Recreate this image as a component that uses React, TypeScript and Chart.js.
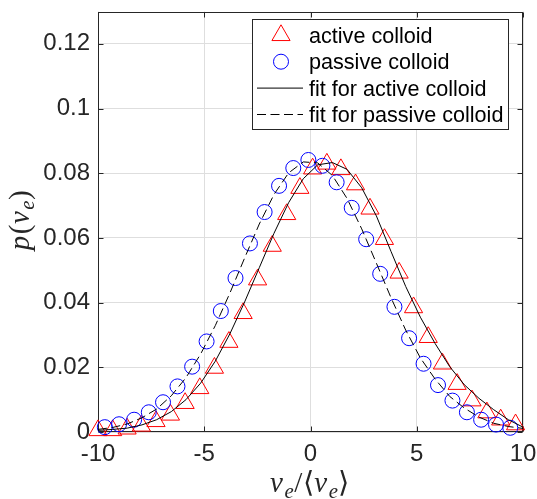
import React, { useEffect, useRef } from 'react';
import { Chart, registerables } from 'chart.js';
Chart.register(...registerables);

// ---- data ----
const activeX = [-10.0, -9.31, -8.63, -7.96, -7.27, -6.59, -5.9, -5.21, -4.52, -3.84, -3.17, -2.49, -1.8, -1.12, -0.5, 0.1, 0.77, 1.43, 2.12, 2.8, 3.48, 4.17, 4.85, 5.54, 6.21, 6.9, 7.6, 8.3, 8.95, 9.65];
const activeY = [0.0005, 0.0005, 0.001, 0.0019, 0.0033, 0.0053, 0.0089, 0.0135, 0.0198, 0.0278, 0.0367, 0.0471, 0.0575, 0.0673, 0.0754, 0.0814, 0.0829, 0.0812, 0.0765, 0.069, 0.0596, 0.0492, 0.0385, 0.0293, 0.0211, 0.0148, 0.0097, 0.006, 0.0038, 0.0023];

const passiveX = [-9.68, -9.01, -8.3, -7.61, -6.94, -6.26, -5.57, -4.89, -4.22, -3.53, -2.85, -2.16, -1.48, -0.81, -0.1, 0.56, 1.23, 1.94, 2.62, 3.28, 3.95, 4.64, 5.32, 6.0, 6.68, 7.36, 8.03, 8.73, 9.4];
const passiveY = [0.0015, 0.0024, 0.0038, 0.0061, 0.0092, 0.0141, 0.0202, 0.028, 0.0374, 0.0476, 0.0583, 0.068, 0.0761, 0.0816, 0.0841, 0.0823, 0.0772, 0.0693, 0.0596, 0.0489, 0.0387, 0.029, 0.0211, 0.0145, 0.0097, 0.0061, 0.0038, 0.0023, 0.0013];

const fitX = [-10, -9.31, -8.62, -7.93, -7.24, -6.55, -5.86, -5.17, -4.48, -3.79, -3.1, -2.41, -1.72, -1.03, -0.34, 0.34, 1.03, 1.72, 2.41, 3.1, 3.79, 4.48, 5.17, 5.86, 6.55, 7.24, 7.93, 8.62, 9.31, 10];
const activeFitY = [0.0005, 0.0008, 0.0012, 0.0022, 0.0038, 0.0063, 0.01, 0.0151, 0.0219, 0.0304, 0.0402, 0.0508, 0.0614, 0.0709, 0.0783, 0.0826, 0.0833, 0.0812, 0.0755, 0.0668, 0.0558, 0.045, 0.0355, 0.0274, 0.0202, 0.0146, 0.0104, 0.0069, 0.0038, 0.0015];
const passiveFitY = [0.0008, 0.0014, 0.0025, 0.0044, 0.0071, 0.0112, 0.0168, 0.0241, 0.0329, 0.043, 0.0538, 0.0643, 0.0734, 0.0801, 0.0835, 0.0832, 0.0793, 0.0722, 0.0628, 0.0522, 0.0415, 0.0315, 0.0229, 0.0164, 0.011, 0.0074, 0.0046, 0.0027, 0.0017, 0.0011];

const xTicks = [-10, -5, 0, 5, 10];
const xTickLabels = ['-10', '-5', '0', '5', '10'];
const yTicks = [0, 0.02, 0.04, 0.06, 0.08, 0.1, 0.12];
const yTickLabels = ['0', '0.02', '0.04', '0.06', '0.08', '0.1', '0.12'];

const seriesLabels = ['active colloid', 'passive colloid', 'fit for active colloid', 'fit for passive colloid'];

type Seg = { t: string; it?: boolean; sub?: boolean };
const yTitle: Seg[] = [{ t: 'p', it: true }, { t: '(' }, { t: 'v', it: true }, { t: 'e', it: true, sub: true }, { t: ')' }];
const xTitle: Seg[] = [{ t: 'v', it: true }, { t: 'e', it: true, sub: true }, { t: '/' }, { t: '⟨' }, { t: 'v', it: true }, { t: 'e', it: true, sub: true }, { t: '⟩' }];

const AXIS = '#262626';
const RED = '#ff0000';
const BLUE = '#0000ff';
const TITLE_FONT = '"Liberation Serif", serif';
const TITLE_SIZE = 29;
const DASH = [9, 4.5];

function drawRich(ctx: CanvasRenderingContext2D, segs: Seg[], size: number) {
  const fontFor = (s: Seg) => `${s.it ? 'italic ' : ''}${s.sub ? size * 0.72 : size}px ${TITLE_FONT}`;
  const widths: number[] = [];
  let total = 0;
  segs.forEach((s) => {
    ctx.font = fontFor(s);
    const w = ctx.measureText(s.t).width + (s.it && !s.sub ? 1.5 : 0.5);
    widths.push(w);
    total += w;
  });
  let x = -total / 2;
  ctx.textAlign = 'left';
  ctx.textBaseline = 'alphabetic';
  segs.forEach((s, i) => {
    ctx.font = fontFor(s);
    ctx.fillText(s.t, x, s.sub ? size * 0.2 : 0);
    x += widths[i];
  });
}

function triPath(ctx: CanvasRenderingContext2D, x: number, y: number, r: number) {
  ctx.beginPath();
  for (let k = 0; k < 3; k++) {
    const a = (k * 2 * Math.PI) / 3;
    const px = x + Math.sin(a) * r;
    const py = y - Math.cos(a) * r;
    if (k === 0) ctx.moveTo(px, py);
    else ctx.lineTo(px, py);
  }
  ctx.closePath();
}

const framePlugin = {
  id: 'frame',
  beforeDatasetsDraw(chart: any) {
    const { ctx, chartArea: a, scales } = chart;
    ctx.save();
    ctx.strokeStyle = AXIS;
    ctx.lineWidth = 1;
    const L = Math.round(a.left) + 0.5;
    const R = Math.round(a.right) - 0.5;
    const T = Math.round(a.top) + 0.5;
    const B = Math.round(a.bottom) - 0.5;
    ctx.strokeRect(L, T, R - L, B - T);
    ctx.beginPath();
    const tl = 5;
    xTicks.forEach((v) => {
      const px = Math.round(scales.x.getPixelForValue(v)) + 0.5;
      ctx.moveTo(px, B);
      ctx.lineTo(px, B - tl);
      ctx.moveTo(px, T);
      ctx.lineTo(px, T + tl);
    });
    yTicks.forEach((v) => {
      const py = Math.round(scales.y.getPixelForValue(v)) + 0.5;
      ctx.moveTo(L, py);
      ctx.lineTo(L + tl, py);
      ctx.moveTo(R, py);
      ctx.lineTo(R - tl, py);
    });
    ctx.stroke();
    ctx.restore();
  },
  afterDraw(chart: any) {
    const { ctx } = chart;
    ctx.save();
    ctx.fillStyle = AXIS;
    ctx.save();
    ctx.translate(28.5, 220);
    ctx.rotate(-Math.PI / 2);
    drawRich(ctx, yTitle, TITLE_SIZE);
    ctx.restore();
    ctx.save();
    ctx.translate(310, 492);
    drawRich(ctx, xTitle, TITLE_SIZE);
    ctx.restore();
    ctx.restore();
  },
};

const legendPlugin = {
  id: 'customLegend',
  afterDatasetsDraw(chart: any) {
    const { ctx } = chart;
    const bx = 252.5, by = 19.5, bw = 256, bh = 110;
    ctx.save();
    ctx.fillStyle = '#ffffff';
    ctx.fillRect(bx, by, bw, bh);
    ctx.strokeStyle = AXIS;
    ctx.lineWidth = 1;
    ctx.strokeRect(bx, by, bw, bh);
    const rowY = [35.3, 61.7, 88.1, 114.5];
    const symX = 281;
    ctx.strokeStyle = RED;
    triPath(ctx, symX, rowY[0], 10.5);
    ctx.stroke();
    ctx.strokeStyle = BLUE;
    ctx.beginPath();
    ctx.arc(symX, rowY[1], 7.5, 0, Math.PI * 2);
    ctx.stroke();
    ctx.strokeStyle = '#000000';
    ctx.beginPath();
    ctx.moveTo(257, rowY[2]);
    ctx.lineTo(303, rowY[2]);
    ctx.stroke();
    ctx.setLineDash(DASH);
    ctx.beginPath();
    ctx.moveTo(257, rowY[3]);
    ctx.lineTo(303, rowY[3]);
    ctx.stroke();
    ctx.setLineDash([]);
    ctx.fillStyle = '#000000';
    ctx.font = '21.6px "Liberation Sans", Arial, sans-serif';
    ctx.textAlign = 'left';
    ctx.textBaseline = 'alphabetic';
    seriesLabels.forEach((lab, i) => {
      ctx.fillText(lab, 309, rowY[i] + 7.7);
    });
    ctx.restore();
  },
};

export default function App() {
  const ref = useRef<HTMLCanvasElement | null>(null);
  useEffect(() => {
    if (!ref.current) return;
    const chart = new Chart(ref.current, {
      type: 'scatter',
      data: {
        datasets: [
          {
            label: seriesLabels[0],
            data: activeX.map((x, i) => ({ x, y: activeY[i] })),
            pointStyle: 'triangle',
            pointRadius: 10.5,
            pointBorderWidth: 1,
            borderColor: RED,
            backgroundColor: 'rgba(0,0,0,0)',
            showLine: false,
            clip: false as any,
            order: 3,
          },
          {
            label: seriesLabels[1],
            data: passiveX.map((x, i) => ({ x, y: passiveY[i] })),
            pointStyle: 'circle',
            pointRadius: 7.5,
            pointBorderWidth: 1,
            borderColor: BLUE,
            backgroundColor: 'rgba(0,0,0,0)',
            showLine: false,
            clip: false as any,
            order: 2,
          },
          {
            label: seriesLabels[2],
            data: fitX.map((x, i) => ({ x, y: activeFitY[i] })),
            showLine: true,
            pointRadius: 0,
            borderColor: '#000000',
            borderWidth: 1,
            tension: 0,
            fill: false,
            order: 1,
          },
          {
            label: seriesLabels[3],
            data: fitX.map((x, i) => ({ x, y: passiveFitY[i] })),
            showLine: true,
            pointRadius: 0,
            borderColor: '#000000',
            borderWidth: 1,
            borderDash: DASH,
            tension: 0,
            fill: false,
            order: 0,
          },
        ] as any,
      },
      options: {
        animation: false,
        responsive: false,
        devicePixelRatio: 1,
        events: [],
        layout: { padding: { left: 0, right: 14, top: 6, bottom: 0 } },
        plugins: { legend: { display: false }, tooltip: { enabled: false } },
        scales: {
          x: {
            type: 'linear',
            min: -10,
            max: 10,
            afterBuildTicks: (s: any) => {
              s.ticks = xTicks.map((v) => ({ value: v }));
            },
            afterFit: (s: any) => {
              s.height = 67;
              s.paddingLeft = 0;
              s.paddingRight = 0;
            },
            ticks: {
              autoSkip: false,
              maxRotation: 0,
              padding: 8,
              color: AXIS,
              font: { family: '"Liberation Sans", Arial, sans-serif', size: 24 },
              callback: (v: any) => xTickLabels[xTicks.indexOf(Number(v))] ?? '',
            },
            grid: { color: '#dedede', lineWidth: 1, drawTicks: false },
            border: { display: false },
          },
          y: {
            type: 'linear',
            min: 0,
            max: 0.13,
            afterBuildTicks: (s: any) => {
              s.ticks = yTicks.map((v) => ({ value: v }));
            },
            afterFit: (s: any) => {
              s.width = 98;
              s.paddingTop = 0;
              s.paddingBottom = 0;
            },
            ticks: {
              autoSkip: false,
              padding: 8,
              color: AXIS,
              font: { family: '"Liberation Sans", Arial, sans-serif', size: 24 },
              callback: (v: any) => {
                const i = yTicks.findIndex((t) => Math.abs(t - Number(v)) < 1e-9);
                return i >= 0 ? yTickLabels[i] : '';
              },
            },
            grid: { color: '#dedede', lineWidth: 1, drawTicks: false },
            border: { display: false },
          },
        },
      } as any,
      plugins: [framePlugin, legendPlugin],
    });
    return () => chart.destroy();
  }, []);
  return (
    <div style={{ position: 'fixed', left: 0, top: 0, width: 537, height: 499, background: '#ffffff' }}>
      <canvas ref={ref} width={537} height={499} style={{ display: 'block' }} />
    </div>
  );
}
